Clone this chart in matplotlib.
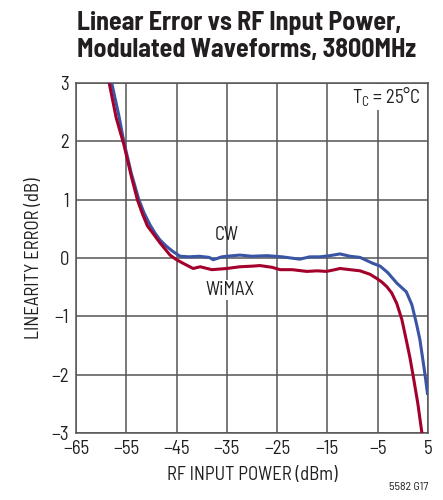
import matplotlib.pyplot as plt

plt.rcParams["font.family"] = ["Barlow Semi Condensed", "DejaVu Sans"]

# CW curve (dBm, dB)
cw_x = [-57.9, -56.5, -55.5, -54.0, -52.5, -51.5, -50.3, -49.3, -48.3, -47.0, -45.7, -44.3,
        -42.5, -40.5, -38.5, -37.7, -36.0, -35.0, -32.4, -30.0, -27.0, -24.0, -20.5, -18.5,
        -16.5, -14.5, -12.5, -10.5, -8.5, -7.0, -6.0, -4.5, -3.0, -1.2, 0.7, 1.8, 2.7, 3.4,
        4.0, 4.5, 4.9]
cw_y = [3.0, 2.45, 2.0, 1.45, 1.0, 0.78, 0.57, 0.43, 0.31, 0.2, 0.11, 0.03,
        0.02, 0.03, 0.01, -0.03, 0.02, 0.03, 0.05, 0.03, 0.04, 0.02, -0.02, 0.02,
        0.02, 0.04, 0.07, 0.03, 0.01, -0.05, -0.09, -0.14, -0.25, -0.43, -0.58, -0.8, -1.12, -1.4,
        -1.75, -2.05, -2.32]

# WiMAX curve
wm_x = [-58.4, -57.0, -55.5, -54.0, -52.8, -51.8, -50.8, -49.5, -48.3, -46.3, -45.0, -43.5,
        -41.7, -40.3, -38.0, -35.0, -32.4, -30.0, -28.4, -26.0, -24.4, -22.0, -19.1, -17.0,
        -15.2, -13.5, -12.5, -10.5, -8.5, -6.5, -5.2, -4.2, -3.2, -2.2, -1.2, -0.2, 0.7,
        1.4, 2.1, 3.0, 3.8]
wm_y = [3.0, 2.4, 1.95, 1.4, 1.0, 0.76, 0.55, 0.4, 0.26, 0.05, -0.03, -0.1,
        -0.18, -0.15, -0.2, -0.18, -0.15, -0.14, -0.13, -0.16, -0.2, -0.2, -0.23, -0.22,
        -0.23, -0.2, -0.18, -0.2, -0.22, -0.28, -0.35, -0.41, -0.49, -0.6, -0.78, -1.05, -1.41,
        -1.7, -2.04, -2.5, -3.0]

xticks = [-65, -55, -45, -35, -25, -15, -5, 5]
yticks = [-3, -2, -1, 0, 1, 2, 3]

fig = plt.figure(figsize=(4.43, 5.0), dpi=100)
ax = fig.add_axes([0.1716, 0.134, 0.7944, 0.70])

ax.plot(cw_x, cw_y, color="#3a55a4", lw=2.2, zorder=3)
ax.plot(wm_x, wm_y, color="#a3002c", lw=2.2, zorder=3)

ax.set_xlim(-65, 5)
ax.set_ylim(-3, 3)
ax.set_xticks(xticks)
ax.set_yticks(yticks)
ax.set_xticklabels([str(t).replace("-", "\u2212") for t in xticks])
ax.set_yticklabels([str(t).replace("-", "\u2212") for t in yticks])
ax.tick_params(length=0, labelsize=13.5, pad=5, colors="#231f20")
ax.grid(True, color="#555555", lw=1.1)
for s in ax.spines.values():
    s.set_color("#555555")
    s.set_linewidth(1.1)

ax.set_xlabel("RF INPUT POWER (dBm)", fontsize=13.5, color="#231f20", labelpad=6)
ax.set_ylabel("LINEARITY ERROR (dB)", fontsize=13.5, color="#231f20", labelpad=6)

ax.text(-35, 0.4, "CW", fontsize=13.5, ha="center", va="center", color="#231f20", zorder=4)
ax.text(-34.4, -0.55, "WiMAX", fontsize=13.5, ha="center", va="center", color="#231f20", zorder=4,
        bbox=dict(fc="white", ec="none", pad=1))
ax.text(3.6, 2.76, "T$_\\mathregular{C}$ = 25\u00b0C", fontsize=13.5, ha="right", va="center",
        color="#231f20", zorder=4, bbox=dict(fc="white", ec="none", pad=1))

fig.text(0.174, 0.978, "Linear Error vs RF Input Power,\nModulated Waveforms, 3800MHz",
         fontsize=18.7, fontweight="bold", ha="left", va="top", color="#231f20",
         linespacing=1.15)
fig.text(0.966, 0.015, "5582 G17", fontsize=8.5, ha="right", va="bottom", color="#231f20")

fig.savefig("out.png", dpi=100)
